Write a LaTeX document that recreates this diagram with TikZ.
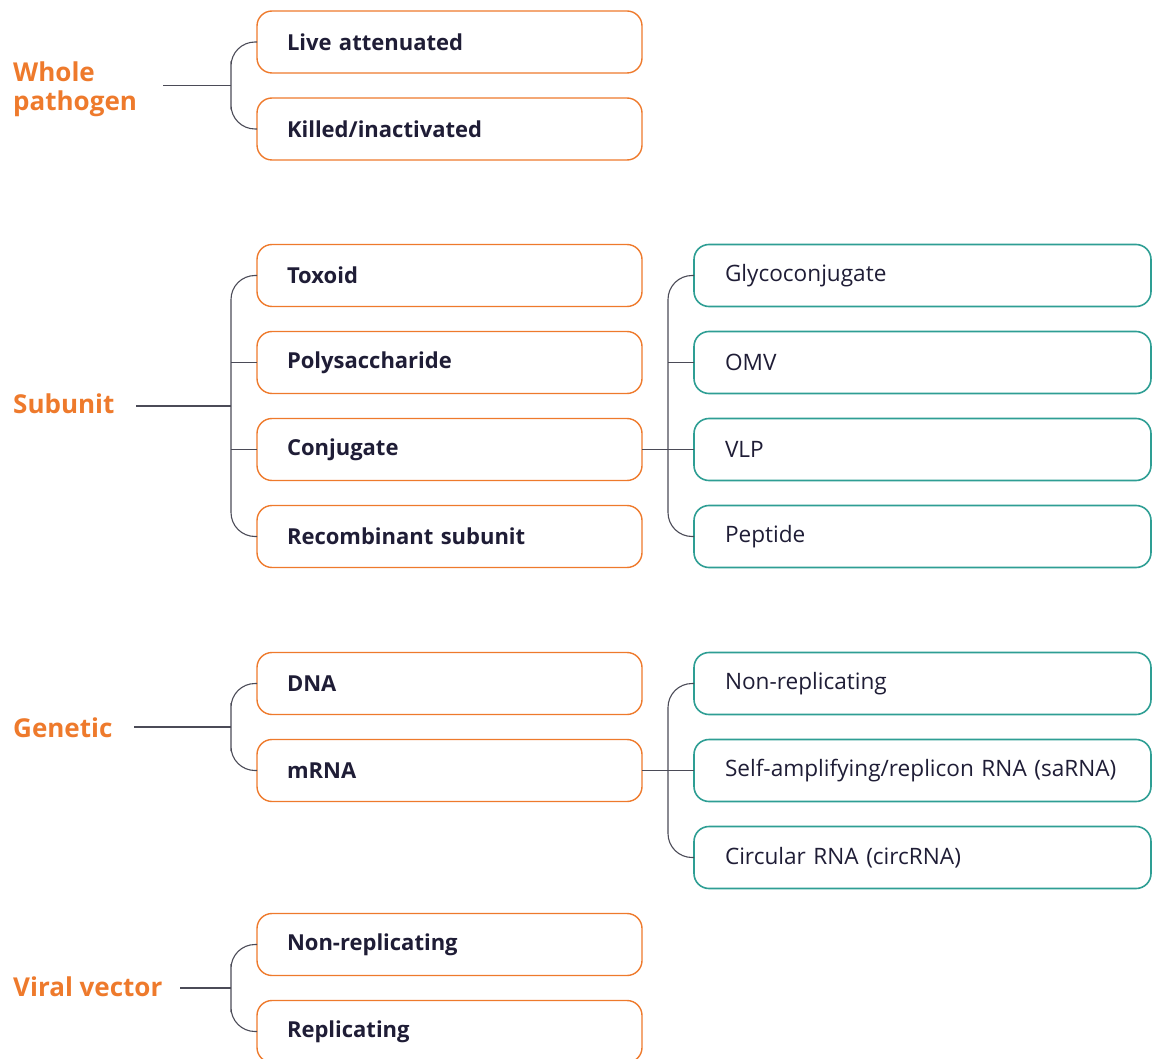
\documentclass[tikz,border=0pt]{standalone}
\usepackage{fontspec}
\setmainfont{Open Sans}
\usetikzlibrary{calc,positioning}
\definecolor{vorange}{HTML}{EE7A2C}
\definecolor{vteal}{HTML}{2E9E94}
\definecolor{vink}{HTML}{1F1D36}
\definecolor{vline}{HTML}{4B4B57}

\begin{document}
\begin{tikzpicture}[x=1pt,y=-1pt,
    kind/.style={font=\bfseries\fontsize{26}{29}\selectfont, text=vorange, align=left, anchor=west, inner sep=0pt},
    obox/.style={draw=vorange, line width=1.4pt, rounded corners=15pt, minimum width=385pt, minimum height=62pt, outer sep=0pt,
        inner xsep=30pt, inner ysep=0pt, text width=325pt, align=left, text=vink, font=\bfseries\fontsize{22}{26}\selectfont},
    tbox/.style={draw=vteal, line width=1.6pt, rounded corners=15pt, minimum width=457pt, minimum height=62pt, outer sep=0pt,
        inner xsep=31pt, inner ysep=0pt, text width=395pt, align=left, text=vink, font=\fontsize{22.6}{26}\selectfont},
    link/.style={draw=vline, line width=1.1pt},
    bracket/.style={link, rounded corners=24pt},
    node distance=25pt]
        \useasboundingbox (0,0) rectangle (1154,1059);

        % whole pathogen
        \node[kind] (wp) at (13,89) {Whole\\pathogen};
        \node[obox] (la) at (449.5,42) {Live attenuated};
        \node[obox, below=of la] (ki) {Killed/inactivated};
        \coordinate (jw) at ($(la.west)!.5!(ki.west)+(-26,0)$);
        \draw[bracket] (la.west) -| (jw) |- (ki.west);
        \draw[link, shorten >=26pt] (jw) -- (jw -| wp.east);

        % subunit
        \node[kind] (su) at (13,404) {Subunit};
        \node[obox] (tx) at (449.5,275.5) {Toxoid};
        \node[obox, below=of tx] (ps) {Polysaccharide};
        \node[obox, below=of ps] (cj) {Conjugate};
        \node[obox, below=of cj] (rs) {Recombinant subunit};
        \coordinate (js) at ($(tx.west)!.5!(rs.west)+(-26,0)$);
        \draw[bracket] (tx.west) -| (js) |- (rs.west);
        \draw[link] (ps.west) -- (ps.west -| js);
        \draw[link] (cj.west) -- (cj.west -| js);
        \draw[link, shorten >=21pt] (js) -- (js -| su.east);

        \node[tbox] (gc) at (922.5,275.5) {Glycoconjugate};
        \node[tbox, below=of gc] (om) {OMV};
        \node[tbox, below=of om] (vl) {VLP};
        \node[tbox, below=of vl] (pp) {Peptide};
        \coordinate (jc) at ($(cj.east)!.5!(vl.west)$);
        \draw[link] (cj.east) -- (vl.west);
        \draw[bracket] (gc.west) -| (jc) |- (pp.west);
        \draw[link] (om.west) -- (om.west -| jc);

        % genetic
        \node[kind] (ge) at (13,728) {Genetic};
        \node[obox] (dn) at (449.5,683.5) {DNA};
        \node[obox, below=of dn] (mr) {mRNA};
        \coordinate (jg) at ($(dn.west)!.5!(mr.west)+(-26,0)$);
        \draw[bracket] (dn.west) -| (jg) |- (mr.west);
        \draw[link, shorten >=21pt] (jg) -- (jg -| ge.east);

        \node[tbox] (nr) at (922.5,683.5) {Non-replicating};
        \node[tbox, below=of nr] (sa) {Self-amplifying/replicon RNA (saRNA)};
        \node[tbox, below=of sa] (cr) {Circular RNA (circRNA)};
        \coordinate (jm) at ($(mr.east)!.5!(sa.west)$);
        \draw[link] (mr.east) -- (sa.west);
        \draw[bracket] (nr.west) -| (jm) |- (cr.west);

        % viral vector
        \node[kind] (vv) at (13,987) {Viral vector};
        \node[obox] (vn) at (449.5,944.5) {Non-replicating};
        \node[obox, below=of vn] (rp) {Replicating};
        \coordinate (jv) at ($(vn.west)!.5!(rp.west)+(-26,0)$);
        \draw[bracket] (vn.west) -| (jv) |- (rp.west);
        \draw[link, shorten >=17pt] (jv) -- (jv -| vv.east);
\end{tikzpicture}
\end{document}
